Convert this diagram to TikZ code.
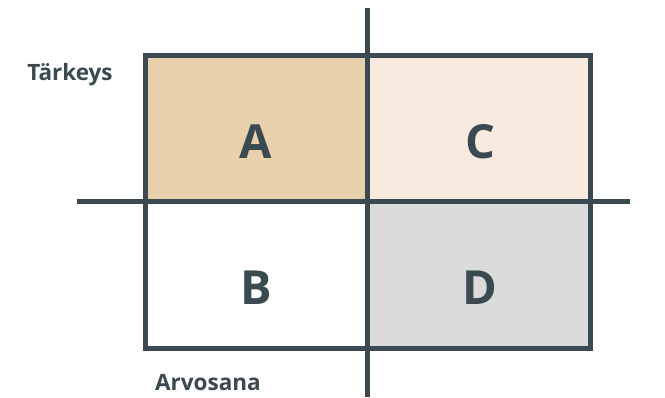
\documentclass[tikz,border=0pt]{standalone}
\usepackage{fontspec}
\setmainfont{Open Sans}
\definecolor{ln}{HTML}{3B4A50}
\definecolor{fa}{HTML}{E8D0AC}
\definecolor{fc}{HTML}{F9EAE0}
\definecolor{fd}{HTML}{DBDBDB}
\begin{document}
\begin{tikzpicture}[x=1pt,y=-1pt,
  gridline/.style={draw=ln,line width=5pt},
  big/.style={text=ln,font=\fontsize{47}{50}\selectfont\bfseries},
  axislabel/.style={text=ln,font=\fontsize{22.5}{26}\selectfont\bfseries}]
\useasboundingbox (0,0) rectangle (665,397);
\fill[fa] (145,55) rectangle (367,201);
\fill[fc] (367,55) rectangle (590,201);
\fill[white] (145,201) rectangle (367,348);
\fill[fd] (367,201) rectangle (590,348);
\draw[gridline] (145,55) rectangle (590,348);
\coordinate (vt) at (367,8);
\coordinate (vb) at (367,397);
\coordinate (hl) at (77,201);
\coordinate (hr) at (630,201);
\draw[gridline] (vt) -- (vb);
\draw[gridline] (hl) -- (hr);
\node[big] (A) at (256,142) {A};
\node[big] (C) at (480,142) {C};
\node[big] (B) at (256,288) {B};
\node[big] (D) at (480,288) {D};
\node[axislabel] (tk) at (70,75) {Tärkeys};
\node[axislabel] (av) at (208,383) {Arvosana};
\end{tikzpicture}
\end{document}
